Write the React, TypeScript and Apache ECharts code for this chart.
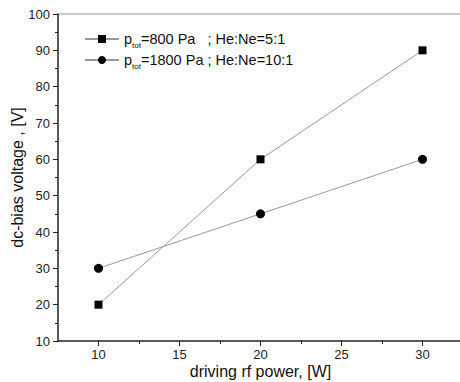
import React, { useEffect, useRef } from "react";
import * as echarts from "echarts";

const powerW = [10, 20, 30];
const series800 = [20, 60, 90];
const series1800 = [30, 45, 60];
const xMajorTicks = [10, 15, 20, 25, 30];
const xMinorTicks = [12.5, 17.5, 22.5, 27.5];
const legendNames = ["p800", "p1800"];
const legendTexts = ["=800 Pa\u00a0\u00a0\u00a0; He:Ne=5:1", "=1800 Pa ; He:Ne=10:1"];

export default function App() {
  const ref = useRef<HTMLDivElement>(null);
  useEffect(() => {
    document.body.style.margin = "0";
    const chart = echarts.init(ref.current!, null, { renderer: "svg" });
    const font = "'Liberation Sans', Arial, sans-serif";
    const rich = {
      a: { fontSize: 14.5, fontFamily: font, color: "#111", lineHeight: 14, verticalAlign: "bottom" as const },
      sub: { fontSize: 8, fontFamily: font, color: "#111", lineHeight: 8, verticalAlign: "bottom" as const, padding: [0, 0, -3, 0] },
    };
    const tickAxisBase = {
      type: "value",
      min: 7.5,
      max: 32.5,
      position: "bottom",
      axisLine: { show: false, onZero: false },
      axisLabel: { show: false },
      splitLine: { show: false },
    };
    chart.setOption({
      animation: false,
      backgroundColor: "#fff",
      grid: {
        left: 58,
        top: 14,
        right: -3,
        bottom: 41,
        outerBoundsMode: "none",
        containLabel: false,
        show: true,
        borderColor: "#bbb",
        borderWidth: 1.5,
        backgroundColor: "transparent",
      },
      legend: {
        orient: "vertical",
        left: 84,
        top: 31,
        padding: 0,
        itemWidth: 34,
        itemHeight: 10,
        itemGap: 3,
        data: legendNames,
        formatter: (name: string) =>
          "{a|p}{sub|tot}{a|" + legendTexts[legendNames.indexOf(name)] + "}",
        textStyle: { rich, fontFamily: font },
      },
      xAxis: [
        {
          type: "value",
          min: 7.5,
          max: 32.5,
          interval: 2.5,
          position: "bottom",
          name: "driving rf power, [W]",
          nameLocation: "middle",
          nameGap: 22,
          nameMoveOverlap: false,
          nameTextStyle: { fontSize: 16, fontFamily: font, color: "#111" },
          axisLine: { show: true, onZero: false, lineStyle: { color: "#333", width: 1.5 } },
          axisTick: { show: false },
          axisLabel: {
            interval: 0,
            hideOverlap: false,
            showMinLabel: false,
            showMaxLabel: false,
            formatter: (v: number) => (xMajorTicks.indexOf(v) >= 0 ? String(v) : ""),
            fontSize: 13,
            fontFamily: font,
            color: "#222",
            margin: 7,
          },
          splitLine: { show: false },
        },
        {
          ...tickAxisBase,
          axisTick: { show: true, inside: false, length: 5, interval: 0, customValues: xMajorTicks, lineStyle: { color: "#222" } },
        },
        {
          ...tickAxisBase,
          axisTick: { show: true, inside: false, length: 3, interval: 0, customValues: xMinorTicks, lineStyle: { color: "#222" } },
        },
      ],
      yAxis: {
        type: "value",
        min: 10,
        max: 100,
        interval: 10,
        name: "dc-bias voltage , [V]",
        nameLocation: "middle",
        nameGap: 33,
        nameMoveOverlap: false,
        nameTextStyle: { fontSize: 16, fontFamily: font, color: "#111" },
        axisLine: { show: true, onZero: false, lineStyle: { color: "#333", width: 1.5 } },
        axisTick: { show: true, inside: false, length: 5, lineStyle: { color: "#222" } },
        minorTick: { show: true, splitNumber: 2, length: 3, lineStyle: { color: "#222" } },
        axisLabel: { fontSize: 13, fontFamily: font, color: "#222", margin: 8 },
        splitLine: { show: false },
      },
      series: [
        {
          name: "p800",
          type: "line",
          xAxisIndex: 0,
          data: powerW.map((x, i) => [x, series800[i]]),
          symbol: "rect",
          symbolSize: 8,
          itemStyle: { color: "#000" },
          lineStyle: { color: "#999", width: 1 },
        },
        {
          name: "p1800",
          type: "line",
          xAxisIndex: 0,
          data: powerW.map((x, i) => [x, series1800[i]]),
          symbol: "circle",
          symbolSize: 9,
          itemStyle: { color: "#000" },
          lineStyle: { color: "#999", width: 1 },
        },
      ],
    });
    return () => chart.dispose();
  }, []);
  return <div ref={ref} style={{ width: 460, height: 382 }} />;
}
